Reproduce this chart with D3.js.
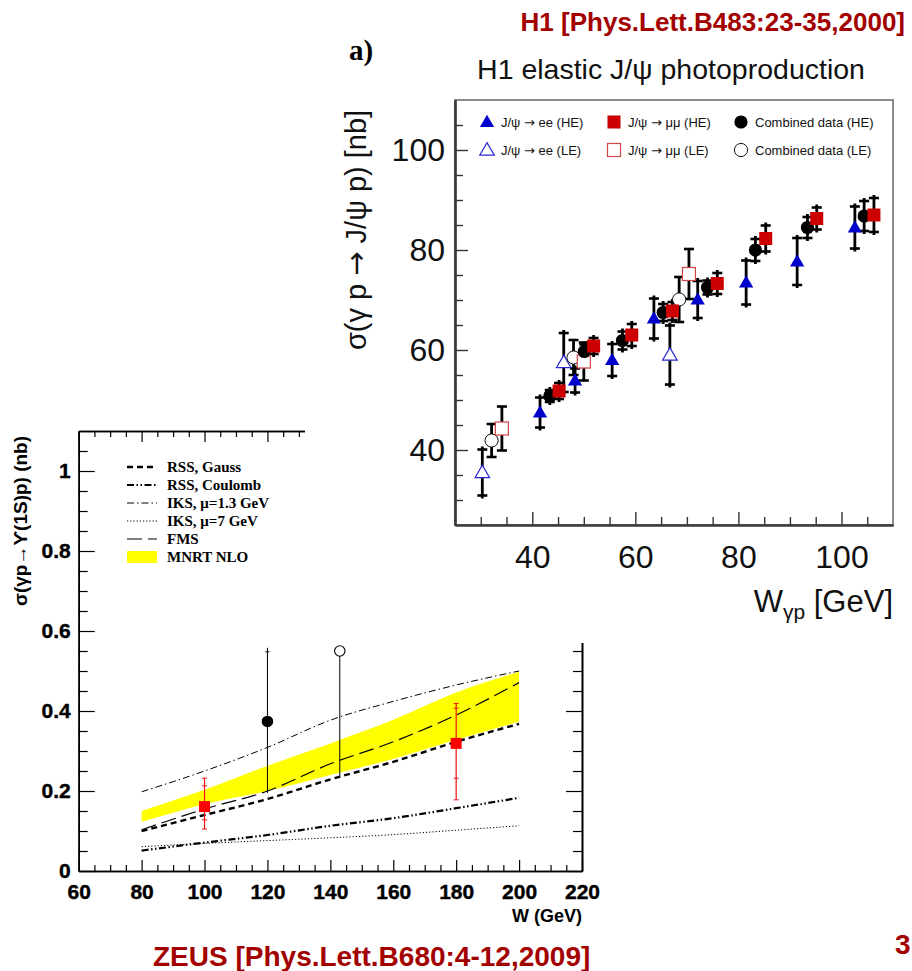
<!DOCTYPE html>
<html><head><meta charset="utf-8">
<script src="https://cdn.jsdelivr.net/npm/d3@7/dist/d3.min.js"></script>
<style>html,body{margin:0;padding:0;background:#fff;} svg{display:block;}</style>
</head><body>
<script>
// ================= H1 elastic J/psi photoproduction (top right) =================
const h1MajorTicks = [40, 60, 80, 100];
const h1MinorTicks = [30, 35, 45, 50, 55, 65, 70, 75, 85, 90, 95, 105];
// HE (high energy) samples
const heEeW      = [41.5, 48.3, 55.5, 63.6, 72.1, 81.5, 91.4, 102.6];
const heEeSigma  = [47.5, 53.9, 58.0, 66.3, 70.1, 73.5, 77.7, 84.5];
const heEeErr    = [3.6, 3.0, 3.8, 4.6, 4.3, 5.0, 5.3, 4.8];
const heMmW      = [45.2, 51.9, 59.3, 67.2, 75.9, 85.3, 95.2, 106.3];
const heMmSigma  = [51.8, 60.8, 63.0, 67.8, 73.3, 82.3, 86.3, 87.0];
const heMmErr    = [2.2, 2.2, 2.8, 2.4, 2.7, 3.2, 2.8, 4.0];
const heCombW    = [43.4, 50.1, 57.5, 65.4, 74.0, 83.3, 93.4, 104.4];
const heCombSigma= [50.8, 59.7, 61.9, 67.5, 72.5, 80.0, 84.5, 86.8];
const heCombErr  = [1.8, 2.0, 2.4, 2.3, 2.0, 2.8, 2.7, 3.6];
// LE (low energy) samples
const leEeW      = [30.3, 46.1, 66.7];
const leEeSigma  = [35.5, 57.5, 59.0];
const leEeErr    = [5.2, 6.5, 6.5];
const leMmW      = [34.1, 50.0, 70.4];
const leMmSigma  = [44.3, 57.7, 75.2];
const leMmErr    = [4.4, 3.8, 5.0];
const leCombW    = [32.1, 48.0, 68.5];
const leCombSigma= [41.9, 58.5, 70.1];
const leCombErr  = [3.3, 3.5, 4.5];
const h1Legend = [
  [["J/ψ ", "→", " ee (HE)"], ["J/ψ ", "→", " μμ (HE)"], ["Combined data (HE)"]],
  [["J/ψ ", "→", " ee (LE)"], ["J/ψ ", "→", " μμ (LE)"], ["Combined data (LE)"]]
];

// ================= ZEUS Upsilon photoproduction (bottom left) =================
const zeusXTicks = [60, 80, 100, 120, 140, 160, 180, 200, 220];
const zeusYTicks = [0, 0.2, 0.4, 0.6, 0.8, 1];
const theoryW    = [80, 100, 120, 140, 160, 180, 200];
const rssGauss   = [0.100, 0.140, 0.180, 0.229, 0.273, 0.323, 0.368];
const rssCoulomb = [0.051, 0.071, 0.090, 0.113, 0.132, 0.157, 0.183];
const iks13      = [0.198, 0.250, 0.309, 0.377, 0.424, 0.465, 0.500];
const iks7       = [0.061, 0.069, 0.076, 0.083, 0.091, 0.102, 0.113];
const fms        = [0.103, 0.155, 0.200, 0.268, 0.323, 0.390, 0.471];
const mnrtLow    = [0.123, 0.167, 0.200, 0.240, 0.280, 0.328, 0.373];
const mnrtHigh   = [0.150, 0.203, 0.263, 0.319, 0.378, 0.446, 0.498];
// ZEUS 2009 points (red squares)
const zeusW      = [100, 180];
const zeusSigma  = [0.161, 0.319];
const zeusStatLo = [0.128, 0.232];
const zeusStatHi = [0.213, 0.407];
const zeusTotLo  = [0.105, 0.178];
const zeusTotHi  = [0.232, 0.419];
// older measurements
const oldW       = [120, 143];
const oldSigma   = [0.374, 0.550];
const oldLo      = [0.195, 0.236];
const oldHi      = [0.558, 0.560];
const zeusLegend = ["RSS, Gauss", "RSS, Coulomb", "IKS, μ=1.3 GeV", "IKS, μ=7 GeV", "FMS", "MNRT NLO"];

// ================= drawing =================
const SANS = "'Liberation Sans', Arial, Helvetica, sans-serif";
const SERIF = "'Liberation Serif', 'Times New Roman', serif";
const ARROWF = "'DejaVu Sans', sans-serif";
const DARKRED = "#a30000";
const svg = d3.select("body").append("svg").attr("width", 912).attr("height", 971);

// ---------- bottom-left chart ----------
const zx = d3.scaleLinear().domain([60, 220]).range([78.7, 582]);
const zy = d3.scaleLinear().domain([0, 1.1]).range([871, 431]);
const gz = svg.append("g");

const bandData = theoryW.map((w, i) => ({w, lo: mnrtLow[i], hi: mnrtHigh[i]}));
gz.append("path").datum(bandData)
  .attr("d", d3.area().x(d => zx(d.w)).y0(d => zy(d.lo)).y1(d => zy(d.hi)).curve(d3.curveMonotoneX))
  .attr("fill", "#ffff00");

const curveStyles = [
  {vals: iks13,      w: 1.0, dash: "7,3,1.5,3"},
  {vals: iks7,       w: 1.0, dash: "1.2,2"},
  {vals: rssGauss,   w: 2.4, dash: "6,4"},
  {vals: rssCoulomb, w: 2.2, dash: "7,2.5,1.5,2.5,1.5,2.5"},
  {vals: fms,        w: 1.2, dash: "15,6"}
];
const zline = d3.line().x(d => zx(d[0])).y(d => zy(d[1])).curve(d3.curveMonotoneX);
curveStyles.forEach(c => {
  gz.append("path").datum(theoryW.map((w, i) => [w, c.vals[i]]))
    .attr("d", zline).attr("fill", "none").attr("stroke", "#000")
    .attr("stroke-width", c.w).attr("stroke-dasharray", c.dash);
});

// legend
const legStyles = [curveStyles[2], curveStyles[3], curveStyles[0], curveStyles[1], curveStyles[4]];
const legY = d3.scalePoint().domain(zeusLegend).range([467, 557]);
zeusLegend.forEach((lab, i) => {
  const y = legY(lab);
  if (i < 5) {
    gz.append("line").attr("x1", 127).attr("x2", 157).attr("y1", y).attr("y2", y)
      .attr("stroke", "#000").attr("stroke-width", legStyles[i].w).attr("stroke-dasharray", legStyles[i].dash);
  } else {
    gz.append("rect").attr("x", 127).attr("y", y - 6).attr("width", 30).attr("height", 12).attr("fill", "#ffff00");
  }
  gz.append("text").attr("x", 167).attr("y", y + 5).text(lab)
    .attr("font-family", SERIF).attr("font-weight", "bold").attr("font-size", 15).attr("fill", "#000");
});

// old points (black)
oldW.forEach((w, i) => {
  gz.append("line").attr("x1", zx(w)).attr("x2", zx(w)).attr("y1", zy(oldLo[i])).attr("y2", zy(oldHi[i]))
    .attr("stroke", "#000").attr("stroke-width", 1);
  gz.append("line").attr("x1", zx(w) - 2).attr("x2", zx(w) + 2).attr("y1", zy(oldHi[i]) + 4).attr("y2", zy(oldHi[i]) + 4)
    .attr("stroke", "#000").attr("stroke-width", 1);
  gz.append("circle").attr("cx", zx(w)).attr("cy", zy(oldSigma[i])).attr("r", 5.2)
    .attr("fill", i === 0 ? "#000" : "#fff").attr("stroke", "#000").attr("stroke-width", 1.1);
});
// ZEUS points (red)
zeusW.forEach((w, i) => {
  const x = zx(w);
  gz.append("line").attr("x1", x).attr("x2", x).attr("y1", zy(zeusTotLo[i])).attr("y2", zy(zeusTotHi[i]))
    .attr("stroke", "#f01010").attr("stroke-width", 1.2);
  [zeusStatLo[i], zeusStatHi[i], zeusTotLo[i], zeusTotHi[i]].forEach(v => {
    gz.append("line").attr("x1", x - 2.5).attr("x2", x + 2.5).attr("y1", zy(v)).attr("y2", zy(v))
      .attr("stroke", "#f01010").attr("stroke-width", 1);
  });
  gz.append("rect").attr("x", x - 5.5).attr("y", zy(zeusSigma[i]) - 5.5).attr("width", 11).attr("height", 11)
    .attr("fill", "#ff0000");
});

// axes of bottom chart
const zMinorX = d3.range(60, 221, 5).filter(v => !zeusXTicks.includes(v));
const zMinorY = d3.range(1, 22).map(k => k * 0.05).filter(v => !zeusYTicks.some(t => Math.abs(t - v) < 1e-6));
function styleZ(a) {
  a.select(".domain").attr("stroke", "#000").attr("stroke-width", 1.6);
  a.selectAll(".tick line").attr("stroke", "#000").attr("stroke-width", 1.2);
  a.selectAll("text").attr("font-family", SANS).attr("font-weight", "bold").attr("font-size", 21)
    .attr("fill", "#000").attr("stroke", "#000").attr("stroke-width", 0.4);
}
const [zx0, zx1] = zx.range(), [zy0, zy1] = zy.range();
// left
gz.append("g").attr("transform", `translate(${zx0},0)`)
  .call(d3.axisLeft(zy).tickValues(zeusYTicks).tickSizeInner(-16).tickSizeOuter(0).tickPadding(8).tickFormat(d => String(d)))
  .call(styleZ);
gz.append("g").attr("transform", `translate(${zx0},0)`)
  .call(d3.axisLeft(zy).tickValues(zMinorY).tickSizeInner(-9).tickSizeOuter(0).tickFormat(""))
  .call(styleZ);
// right
gz.append("g").attr("transform", `translate(${zx1},0)`)
  .call(d3.axisRight(zy).tickValues(zeusYTicks).tickSizeInner(-16).tickSizeOuter(0).tickFormat(""))
  .call(styleZ);
gz.append("g").attr("transform", `translate(${zx1},0)`)
  .call(d3.axisRight(zy).tickValues(zMinorY).tickSizeInner(-9).tickSizeOuter(0).tickFormat(""))
  .call(styleZ);
// bottom
gz.append("g").attr("transform", `translate(0,${zy0})`)
  .call(d3.axisBottom(zx).tickValues(zeusXTicks).tickSizeInner(-11).tickSizeOuter(0).tickPadding(13))
  .call(styleZ);
gz.append("g").attr("transform", `translate(0,${zy0})`)
  .call(d3.axisBottom(zx).tickValues(zMinorX).tickSizeInner(-6).tickSizeOuter(0).tickFormat(""))
  .call(styleZ);
// top
gz.append("g").attr("transform", `translate(0,${zy1})`)
  .call(d3.axisTop(zx).tickValues(zeusXTicks).tickSizeInner(-11).tickSizeOuter(0).tickFormat(""))
  .call(styleZ);
gz.append("g").attr("transform", `translate(0,${zy1})`)
  .call(d3.axisTop(zx).tickValues(zMinorX).tickSizeInner(-6).tickSizeOuter(0).tickFormat(""))
  .call(styleZ);

gz.append("text").attr("x", zx1).attr("y", 922).attr("text-anchor", "end").text("W (GeV)")
  .attr("font-family", SANS).attr("font-weight", "bold").attr("font-size", 18);
gz.append("text").attr("transform", `translate(27,${(zy1 + 611) / 2}) rotate(-90)`).attr("text-anchor", "middle")
  .text("σ(γp→ϒ(1S)p) (nb)").attr("font-family", SANS).attr("font-weight", "bold").attr("font-size", 19);

svg.append("text").attr("x", 153).attr("y", 966).text("ZEUS [Phys.Lett.B680:4-12,2009]")
  .attr("font-family", SANS).attr("font-weight", "bold").attr("font-size", 28).attr("fill", DARKRED);
svg.append("text").attr("x", 895).attr("y", 954).text("3")
  .attr("font-family", SANS).attr("font-weight", "bold").attr("font-size", 28).attr("fill", DARKRED);

// ---------- white backdrop of top-right figure (overlaps the bottom chart) ----------
svg.append("rect").attr("x", 305).attr("y", 0).attr("width", 607).attr("height", 643).attr("fill", "#fff");

// ---------- top-right chart ----------
const hx = d3.scaleLinear().domain([25, 110]).range([455, 893]);
const hy = d3.scaleLinear().domain([25, 110]).range([525, 100]);
const gh = svg.append("g");
const [hx0, hx1] = hx.range(), [hy0, hy1] = hy.range();

gh.append("rect").attr("x", hx0).attr("y", hy1).attr("width", hx1 - hx0).attr("height", hy0 - hy1)
  .attr("fill", "#fff").attr("stroke", "#8c8c8c").attr("stroke-width", 2);

function styleH(a) {
  a.select(".domain").attr("stroke", "#3a3a3a").attr("stroke-width", 2.2);
  a.selectAll(".tick line").attr("stroke", "#333").attr("stroke-width", 1.4);
  a.selectAll("text").attr("font-family", SANS).attr("font-size", 32).attr("fill", "#111");
}
gh.append("g").attr("transform", `translate(${hx0},0)`)
  .call(d3.axisLeft(hy).tickValues(h1MajorTicks).tickSizeInner(-13).tickSizeOuter(0).tickPadding(10))
  .call(styleH);
gh.append("g").attr("transform", `translate(${hx0},0)`)
  .call(d3.axisLeft(hy).tickValues(h1MinorTicks).tickSizeInner(-8).tickSizeOuter(0).tickFormat(""))
  .call(styleH);
gh.append("g").attr("transform", `translate(0,${hy0})`)
  .call(d3.axisBottom(hx).tickValues(h1MajorTicks).tickSizeInner(-13).tickSizeOuter(0).tickPadding(20))
  .call(styleH);
gh.append("g").attr("transform", `translate(0,${hy0})`)
  .call(d3.axisBottom(hx).tickValues(h1MinorTicks).tickSizeInner(-8).tickSizeOuter(0).tickFormat(""))
  .call(styleH);

// error bars
function errBars(ws, vs, es, caps) {
  ws.forEach((w, i) => {
    const x = hx(w), yt = hy(vs[i] + es[i]), yb = hy(vs[i] - es[i]);
    gh.append("line").attr("x1", x).attr("x2", x).attr("y1", yt).attr("y2", yb)
      .attr("stroke", "#000").attr("stroke-width", 2.8);
    const off = caps ? 0 : 3;
    [yt + off, yb - off].forEach(y => gh.append("line").attr("x1", x - 5).attr("x2", x + 5)
      .attr("y1", y).attr("y2", y).attr("stroke", "#000").attr("stroke-width", 2.6));
  });
}
errBars(leEeW, leEeSigma, leEeErr, false);
errBars(leCombW, leCombSigma, leCombErr, true);
errBars(leMmW, leMmSigma, leMmErr, true);
errBars(heEeW, heEeSigma, heEeErr, false);
errBars(heMmW, heMmSigma, heMmErr, false);
errBars(heCombW, heCombSigma, heCombErr, false);

const triSym = d3.symbol().type(d3.symbolTriangle).size(88);
const triOpen = d3.symbol().type(d3.symbolTriangle).size(92);
function drawMarker(g, kind, x, y) {
  if (kind === "tri") g.append("path").attr("d", triSym()).attr("transform", `translate(${x},${y + 1})`).attr("fill", "#0000cc");
  if (kind === "triO") g.append("path").attr("d", triOpen()).attr("transform", `translate(${x},${y + 1})`).attr("fill", "#fff").attr("stroke", "#2a2ad0").attr("stroke-width", 1.2);
  if (kind === "sq") g.append("rect").attr("x", x - 6.5).attr("y", y - 6.5).attr("width", 13).attr("height", 13).attr("fill", "#cc0000");
  if (kind === "sqO") g.append("rect").attr("x", x - 6.5).attr("y", y - 6.5).attr("width", 13).attr("height", 13).attr("fill", "#fff").attr("stroke", "#d04545").attr("stroke-width", 1.2);
  if (kind === "ci") g.append("circle").attr("cx", x).attr("cy", y).attr("r", 6.6).attr("fill", "#000");
  if (kind === "ciO") g.append("circle").attr("cx", x).attr("cy", y).attr("r", 6.6).attr("fill", "#fff").attr("stroke", "#111").attr("stroke-width", 1);
}
leEeW.forEach((w, i) => drawMarker(gh, "triO", hx(w), hy(leEeSigma[i])));
leCombW.forEach((w, i) => drawMarker(gh, "ciO", hx(w), hy(leCombSigma[i])));
leMmW.forEach((w, i) => drawMarker(gh, "sqO", hx(w), hy(leMmSigma[i])));
heEeW.forEach((w, i) => drawMarker(gh, "tri", hx(w), hy(heEeSigma[i])));
heCombW.forEach((w, i) => drawMarker(gh, "ci", hx(w), hy(heCombSigma[i])));
heMmW.forEach((w, i) => drawMarker(gh, "sq", hx(w), hy(heMmSigma[i])));

// legend
const legKinds = [["tri", "sq", "ci"], ["triO", "sqO", "ciO"]];
const legCols = [487, 614, 741];
const legRows = [122, 150];
h1Legend.forEach((row, r) => row.forEach((parts, c) => {
  drawMarker(gh, legKinds[r][c], legCols[c], legRows[r]);
  const t = gh.append("text").attr("x", legCols[c] + 14).attr("y", legRows[r] + 5)
    .attr("font-family", SANS).attr("font-size", 13).attr("fill", "#111");
  parts.forEach(p => t.append("tspan").text(p).attr("font-family", p === "→" ? ARROWF : SANS));
}));

// titles
gh.append("text").attr("x", 671).attr("y", 79).attr("text-anchor", "middle").text("H1 elastic J/ψ photoproduction")
  .attr("font-family", SANS).attr("font-size", 28.5).attr("fill", "#111");
gh.append("text").attr("x", 349).attr("y", 60).text("a)")
  .attr("font-family", SERIF).attr("font-weight", "bold").attr("font-size", 29).attr("fill", "#000");
gh.append("text").attr("x", 905).attr("y", 31).attr("text-anchor", "end").text("H1 [Phys.Lett.B483:23-35,2000]")
  .attr("font-family", SANS).attr("font-weight", "bold").attr("font-size", 26).attr("fill", DARKRED);
const yt = gh.append("text").attr("transform", `translate(366,230) rotate(-90)`).attr("text-anchor", "middle")
  .attr("font-family", SANS).attr("font-size", 29).attr("fill", "#111");
yt.append("tspan").text("σ(γ p ");
yt.append("tspan").attr("font-family", ARROWF).text("→");
yt.append("tspan").text(" J/ψ p) [nb]");
const xt = gh.append("text").attr("x", hx1).attr("y", 612).attr("text-anchor", "end")
  .attr("font-family", SANS).attr("font-size", 31).attr("fill", "#111");
xt.append("tspan").text("W");
xt.append("tspan").attr("font-size", 21).attr("dy", 7).text("γp");
xt.append("tspan").attr("dy", -7).text(" [GeV]");
</script>
</body></html>
